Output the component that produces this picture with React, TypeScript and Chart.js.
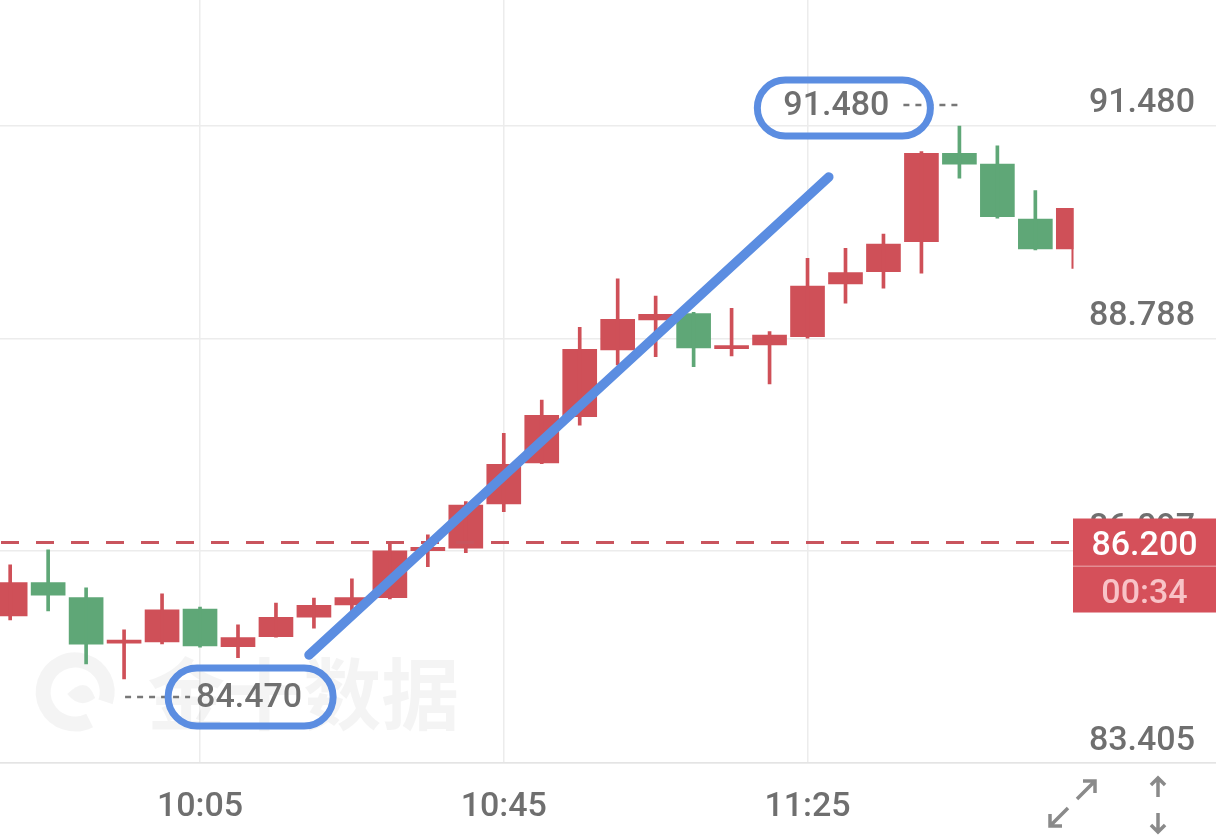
import React, { useEffect, useRef } from 'react';
import { Chart, registerables } from 'chart.js';

Chart.register(...registerables);

// 5-minute candles, time as minutes since midnight
const times = [580, 585, 590, 595, 600, 605, 610, 615, 620, 625, 630, 635, 640, 645, 650, 655, 660, 665, 670, 675, 680, 685, 690, 695, 700, 705, 710, 715, 720];
const opens = [85.270, 85.692, 85.502, 84.924, 84.940, 85.355, 84.881, 85.007, 85.253, 85.409, 85.502, 86.097, 86.128, 86.689, 87.209, 87.796, 88.641, 89.021, 89.101, 88.657, 88.704, 88.810, 89.477, 89.633, 90.014, 91.134, 90.998, 90.301, 89.921];
const highs = [85.916, 86.106, 85.624, 85.092, 85.548, 85.380, 85.156, 85.431, 85.494, 85.739, 86.195, 86.296, 86.718, 87.585, 88.007, 88.929, 89.541, 89.325, 89.119, 89.169, 88.873, 89.803, 89.930, 90.111, 91.154, 91.480, 91.227, 90.660, 90.437];
const lows = [85.219, 85.333, 84.661, 84.470, 84.915, 84.873, 84.741, 85.000, 85.114, 85.333, 85.485, 85.894, 86.072, 86.592, 87.200, 87.687, 88.451, 88.556, 88.429, 88.565, 88.210, 88.789, 89.233, 89.423, 89.613, 90.817, 90.310, 89.908, 89.676];
const closes = [85.692, 85.532, 84.911, 84.935, 85.346, 84.889, 84.995, 85.253, 85.405, 85.502, 86.093, 86.138, 86.673, 87.192, 87.813, 88.650, 89.030, 89.093, 88.666, 88.692, 88.831, 89.452, 89.621, 89.984, 91.134, 90.995, 90.330, 89.921, 90.437];

const yTicks = [83.405, 86.097, 88.788, 91.480];
const xTicks = [605, 645, 685];
const lastPrice = 86.2;
const countdown = '00:34';
// hand-drawn trend line, in (minutes, price)
const trendTimes = [619.35, 687.8];
const trendPrices = [84.775, 90.834];
const watermark = '金十数据';

const UP = '#CF5058';
const DOWN = '#5FA777';
const BLUE = '#5B8DE1';
const FONT = 'Roboto, "Noto Sans", sans-serif';
const TEXT = '#6f6f6f';
const PRICE_AXIS_W = 143;

const fmtTime = (v: number) => {
  const h = Math.floor(v / 60);
  const m = Math.round(v - h * 60);
  return `${h}:${m < 10 ? '0' + m : m}`;
};

function roundRect(ctx: CanvasRenderingContext2D, x: number, y: number, w: number, h: number, r: number) {
  ctx.beginPath();
  ctx.moveTo(x + r, y);
  ctx.lineTo(x + w - r, y);
  ctx.arc(x + w - r, y + r, r, -Math.PI / 2, Math.PI / 2);
  ctx.lineTo(x + r, y + h);
  ctx.arc(x + r, y + r, r, Math.PI / 2, (3 * Math.PI) / 2);
  ctx.closePath();
}

function arrow(ctx: CanvasRenderingContext2D, x1: number, y1: number, x2: number, y2: number, head: number) {
  ctx.beginPath();
  ctx.moveTo(x1, y1);
  ctx.lineTo(x2, y2);
  const a = Math.atan2(y2 - y1, x2 - x1);
  ctx.moveTo(x2 - head * Math.cos(a - Math.PI / 4), y2 - head * Math.sin(a - Math.PI / 4));
  ctx.lineTo(x2, y2);
  ctx.lineTo(x2 - head * Math.cos(a + Math.PI / 4), y2 - head * Math.sin(a + Math.PI / 4));
  ctx.stroke();
}

const overlay = {
  id: 'overlay',
  beforeDatasetsDraw(chart: any) {
    const ctx = chart.ctx as CanvasRenderingContext2D;
    const y = chart.scales.y;
    const x = chart.scales.x;
    ctx.save();
    const cy = y.getPixelForValue(lows[3]) + 13;
    const lx = x.getPixelForValue(times[0]) + 65;
    ctx.strokeStyle = 'rgba(0,0,0,0.045)';
    ctx.lineWidth = 15;
    ctx.beginPath();
    ctx.arc(lx, cy, 32, Math.PI * 0.35, Math.PI * 2.1);
    ctx.stroke();
    ctx.fillStyle = 'rgba(0,0,0,0.045)';
    ctx.beginPath();
    ctx.moveTo(lx - 8, cy + 2);
    ctx.quadraticCurveTo(lx + 12, cy - 18, lx + 20, cy + 6);
    ctx.quadraticCurveTo(lx + 5, cy + 18, lx - 8, cy + 2);
    ctx.fill();
    ctx.font = 'bold 78px "Noto Sans CJK SC"';
    ctx.textBaseline = 'middle';
    ctx.textAlign = 'left';
    ctx.fillText(watermark, lx + 72, cy + 2);
    ctx.restore();
  },
  afterDatasetsDraw(chart: any) {
    const ctx = chart.ctx as CanvasRenderingContext2D;
    const area = chart.chartArea;
    const y = chart.scales.y;
    const x = chart.scales.x;
    const plotRight = area.right - PRICE_AXIS_W;
    ctx.save();
    // last price dashed line
    const py = y.getPixelForValue(lastPrice);
    ctx.strokeStyle = '#C9545D';
    ctx.lineWidth = 3;
    ctx.setLineDash([18, 17]);
    ctx.beginPath();
    ctx.moveTo(area.left + 1, py);
    ctx.lineTo(plotRight, py);
    ctx.stroke();
    ctx.setLineDash([]);
    // price box
    ctx.fillStyle = '#D5505A';
    ctx.fillRect(plotRight, py - 24, PRICE_AXIS_W, 94);
    ctx.fillStyle = 'rgba(255,255,255,0.35)';
    ctx.fillRect(plotRight, py + 23, PRICE_AXIS_W, 1.5);
    ctx.font = `500 34px ${FONT}`;
    ctx.textAlign = 'center';
    ctx.textBaseline = 'middle';
    ctx.fillStyle = '#ffffff';
    ctx.fillText(lastPrice.toFixed(3), plotRight + PRICE_AXIS_W / 2, py + 4);
    ctx.fillStyle = '#F8C3C7';
    ctx.fillText(countdown, plotRight + PRICE_AXIS_W / 2, py + 52);

    // high / low markers
    let hi = 0, lo = 0;
    highs.forEach((v, i) => { if (v > highs[hi]) hi = i; });
    lows.forEach((v, i) => { if (v < lows[lo]) lo = i; });
    ctx.strokeStyle = '#777777';
    ctx.fillStyle = TEXT;
    ctx.lineWidth = 2.5;
    ctx.setLineDash([6, 6]);
    const hx = x.getPixelForValue(times[hi]);
    const hy = y.getPixelForValue(highs[hi]) - 21;
    ctx.beginPath();
    ctx.moveTo(hx - 2, hy);
    ctx.lineTo(hx - 56, hy);
    ctx.stroke();
    const lxp = x.getPixelForValue(times[lo]);
    const lyp = y.getPixelForValue(lows[lo]) + 18;
    ctx.beginPath();
    ctx.moveTo(lxp + 1, lyp);
    ctx.lineTo(lxp + 66, lyp);
    ctx.stroke();
    ctx.setLineDash([]);
    ctx.textAlign = 'right';
    ctx.fillText(highs[hi].toFixed(3), hx - 70, hy + 2);
    ctx.textAlign = 'left';
    ctx.fillText(lows[lo].toFixed(3), lxp + 72, lyp + 2);
    ctx.restore();
  },
  afterDraw(chart: any) {
    const ctx = chart.ctx as CanvasRenderingContext2D;
    const y = chart.scales.y;
    const x = chart.scales.x;
    const area = chart.chartArea;
    ctx.save();
    // blue hand-drawn trend line
    ctx.strokeStyle = BLUE;
    ctx.lineCap = 'round';
    ctx.lineWidth = 9.5;
    ctx.beginPath();
    ctx.moveTo(x.getPixelForValue(trendTimes[0]), y.getPixelForValue(trendPrices[0]));
    ctx.lineTo(x.getPixelForValue(trendTimes[1]), y.getPixelForValue(trendPrices[1]));
    ctx.stroke();
    // ovals round the high / low labels
    let hi = 0, lo = 0;
    highs.forEach((v, i) => { if (v > highs[hi]) hi = i; });
    lows.forEach((v, i) => { if (v < lows[lo]) lo = i; });
    ctx.font = `500 34px ${FONT}`;
    const hw = ctx.measureText(highs[hi].toFixed(3)).width;
    const lw = ctx.measureText(lows[lo].toFixed(3)).width;
    const hx = x.getPixelForValue(times[hi]) - 70 - hw;
    const hy = y.getPixelForValue(highs[hi]) - 18;
    ctx.lineWidth = 7;
    roundRect(ctx, hx - 26, hy - 28, hw + 67, 56, 28);
    ctx.stroke();
    const lx = x.getPixelForValue(times[lo]) + 72;
    const ly = y.getPixelForValue(lows[lo]) + 18;
    roundRect(ctx, lx - 28, ly - 29, lw + 59, 58, 29);
    ctx.stroke();
    // bottom-right icons
    ctx.strokeStyle = '#8a8a8a';
    ctx.lineWidth = 3.5;
    ctx.lineCap = 'butt';
    const bx = area.right - PRICE_AXIS_W;
    const by = area.bottom;
    arrow(ctx, bx + 4, by + 36, bx + 22, by + 18, 12);
    arrow(ctx, bx - 5, by + 45, bx - 23, by + 63, 12);
    arrow(ctx, bx + 85, by + 34, bx + 85, by + 15, 10);
    arrow(ctx, bx + 85, by + 50, bx + 85, by + 69, 10);
    ctx.restore();
  },
};

export default function App() {
  const ref = useRef<HTMLCanvasElement | null>(null);
  useEffect(() => {
    if (!ref.current) return;
    const bodyData = times.map((t, i) => ({ x: t, y: [opens[i], closes[i]] }));
    const wickData = times.map((t, i) => ({ x: t, y: [lows[i], highs[i]] }));
    const colors = times.map((_, i) => (closes[i] >= opens[i] ? UP : DOWN));
    const clip = { left: 0, top: 0, right: -PRICE_AXIS_W + 0.5, bottom: 0 };
    const chart = new Chart(ref.current, {
      type: 'bar',
      data: {
        datasets: [
          {
            label: 'wick',
            data: wickData as any,
            backgroundColor: colors,
            barThickness: 3,
            grouped: false,
            borderWidth: 0,
            clip: clip as any,
          } as any,
          {
            label: 'body',
            data: bodyData as any,
            backgroundColor: colors,
            barThickness: 34,
            minBarLength: 3,
            grouped: false,
            borderWidth: 0,
            clip: clip as any,
          } as any,
        ],
      },
      options: {
        animation: false,
        responsive: false,
        maintainAspectRatio: false,
        layout: { padding: 0 },
        plugins: { legend: { display: false }, tooltip: { enabled: false } },
        scales: {
          x: {
            type: 'linear',
            min: 578.66,
            max: 738.79,
            offset: false,
            afterBuildTicks: (s: any) => {
              s.ticks = xTicks.map((v) => ({ value: v }));
            },
            afterFit: (s: any) => {
              s.height = 75;
            },
            grid: { color: '#ECECEC', drawTicks: false, offset: false, lineWidth: 1.5 },
            border: { display: true, color: '#E4E4E4', width: 1.5 },
            ticks: {
              padding: 24,
              color: TEXT,
              font: { family: FONT, size: 34, weight: '500' as any },
              maxRotation: 0,
              autoSkip: false,
              callback: (v: any) => fmtTime(Number(v)),
            },
          },
          y: {
            type: 'linear',
            position: 'right',
            min: 83.405,
            max: 93.077,
            afterBuildTicks: (s: any) => {
              s.ticks = yTicks.map((v) => ({ value: v }));
            },
            grid: { color: '#ECECEC', drawTicks: false, lineWidth: 1.5 },
            border: { display: false },
            ticks: {
              mirror: true,
              padding: -21,
              labelOffset: -22,
              color: TEXT,
              font: { family: FONT, size: 34, weight: '500' as any },
              callback: (v: any) => Number(v).toFixed(3),
            },
          },
        },
      },
      plugins: [overlay],
    });
    return () => chart.destroy();
  }, []);
  return (
    <div style={{ position: 'absolute', left: 0, top: 0, width: 1216, height: 838, background: '#fff' }}>
      <canvas ref={ref} width={1216} height={838} style={{ display: 'block' }} />
    </div>
  );
}
